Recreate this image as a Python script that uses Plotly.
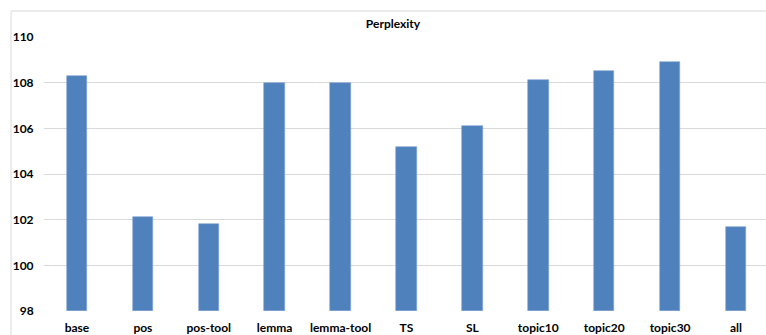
import plotly.graph_objects as go

categories = ["base", "pos", "pos-tool", "lemma", "lemma-tool", "TS", "SL",
              "topic10", "topic20", "topic30", "all"]
perplexity = [108.3, 102.1, 101.8, 108.0, 108.0, 105.2, 106.1, 108.1, 108.5, 108.9, 101.7]
y_ticks = [98, 100, 102, 104, 106, 108, 110]

FONT = "Lato"
GRID = "#d9d9d9"

fig = go.Figure()
fig.add_trace(go.Bar(
    x=list(range(len(categories))),
    y=[v - 98 for v in perplexity],
    base=98,
    width=0.31,
    marker=dict(color="#4f81bd", line=dict(color="#7fa3d3", width=0.6)),
    hoverinfo="skip",
))

fig.update_layout(
    width=766, height=335,
    margin=dict(l=43.5, r=0, t=36.7, b=22.3, pad=0),
    paper_bgcolor="white", plot_bgcolor="white",
    showlegend=False,
    bargap=0,
    title=dict(text="<b>Perplexity</b>", x=393 / 766, xanchor="center",
               y=1 - 24 / 335, yanchor="middle",
               font=dict(family=FONT, size=12, color="#000000")),
    font=dict(family=FONT, size=12, color="#000000"),
)
fig.update_xaxes(
    range=[-0.5, 10.455],
    tickmode="array", tickvals=list(range(len(categories))),
    ticktext=["<b>%s</b>" % c for c in categories],
    showgrid=False, zeroline=False, showline=False,
    ticks="outside", ticklen=6, tickcolor="rgba(0,0,0,0)",
    tickfont=dict(family=FONT, size=12, color="#000000"),
)
fig.update_yaxes(
    range=[98, 110],
    tickmode="array", tickvals=y_ticks,
    ticktext=["<b>%d</b>" % t for t in y_ticks],
    showgrid=True, gridcolor=GRID, gridwidth=1,
    zeroline=False, showline=False, ticks="outside", ticklen=7, tickcolor="rgba(0,0,0,0)",
    tickfont=dict(family=FONT, size=12, color="#000000"),
)
# chart border
fig.add_shape(type="rect", xref="paper", yref="paper",
              x0=(10.5 - 43.5) / 722.5, x1=1.2, y0=-0.3, y1=(312.7 - 10.5) / 276,
              line=dict(color=GRID, width=1), fillcolor="rgba(0,0,0,0)", layer="below")

fig.write_html("out.html", config={"displayModeBar": False},
               post_script="document.body.style.margin='0';")
